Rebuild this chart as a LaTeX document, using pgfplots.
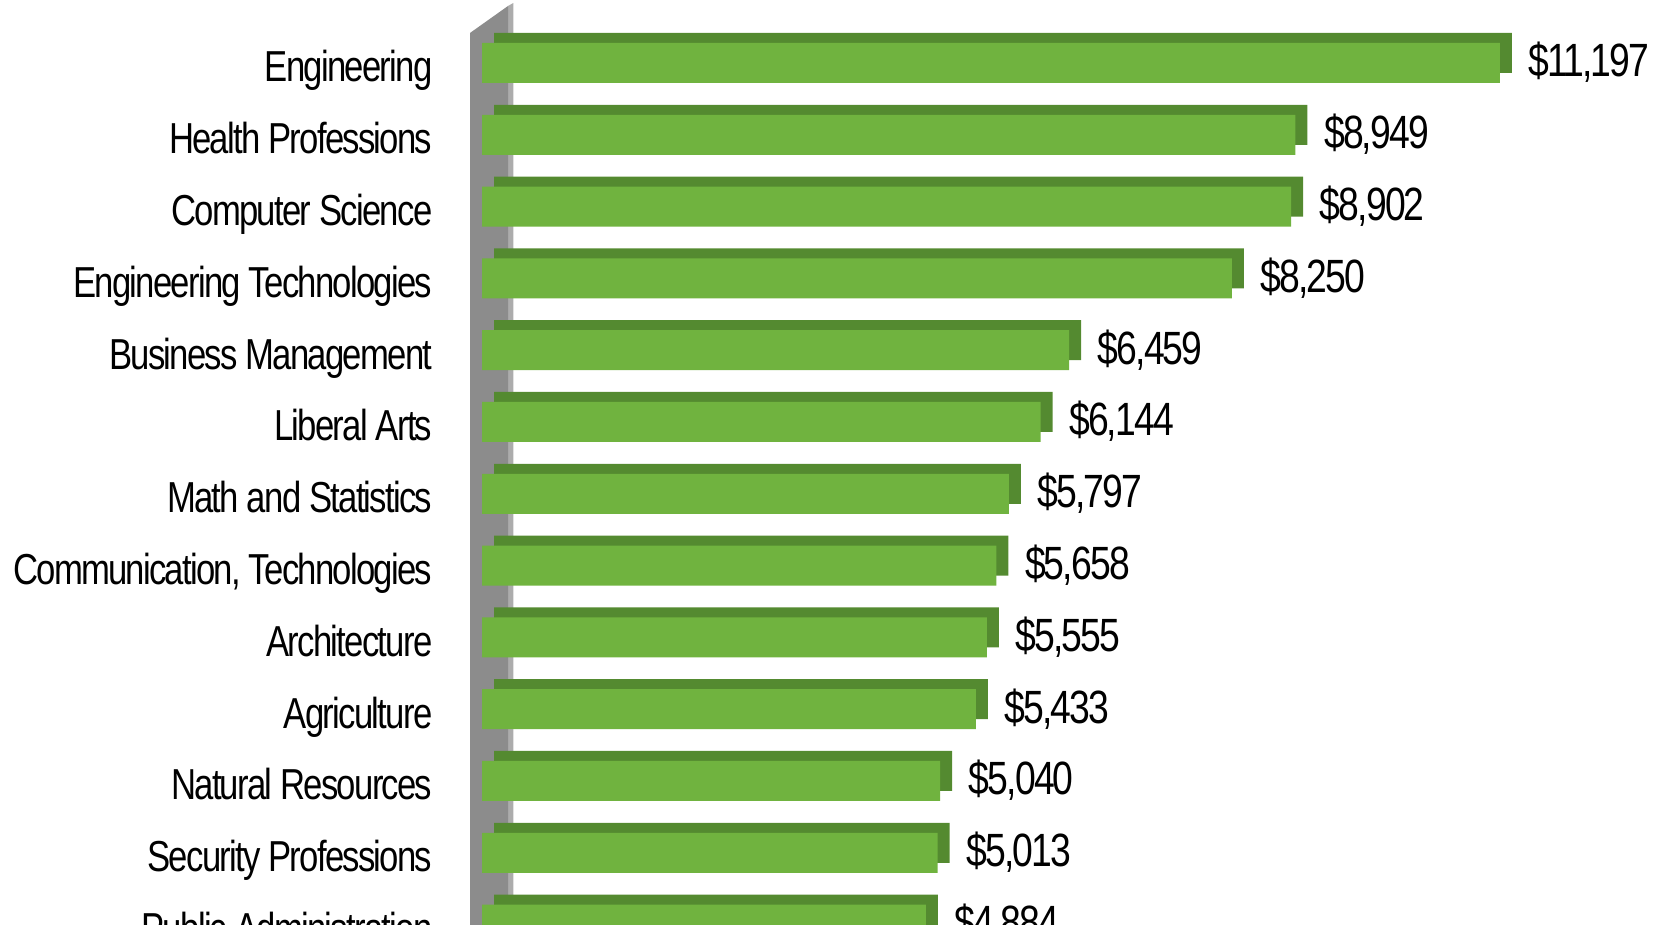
\documentclass[border=0pt]{standalone}
\usepackage{fontspec}
\setmainfont{Liberation Sans}[FakeStretch=0.8, LetterSpace=-4]
\usepackage{pgfplots}
\pgfplotsset{compat=1.18}
\definecolor{barfront}{RGB}{112,179,63}
\definecolor{bartop}{RGB}{84,138,48}
\definecolor{wallg}{RGB}{140,140,140}
\definecolor{walll}{RGB}{172,172,172}
\begin{document}
\begin{tikzpicture}
\useasboundingbox (0,0) rectangle (500.1pt,277.5pt);
\clip (0,0) rectangle (500.1pt,277.5pt);
% back wall
\fill[walll] (152.4pt,0) -- (152.4pt,275.7pt) -- (154pt,276.6pt) -- (154pt,0) -- cycle;
\fill[wallg] (141pt,0) -- (141pt,267.6pt) -- (152.4pt,275.7pt) -- (152.4pt,0) -- cycle;
\begin{axis}[
  at={(144.6pt,0pt)}, anchor=south west,
  scale only axis, width=355.5pt, height=277.5pt,
  xmin=0, xmax=13036, ymin=-0.877, ymax=12.006, y dir=reverse,
  axis line style={draw=none},
  major tick length=0pt,
  xtick=\empty,
  ytick={0,...,12},
  yticklabels={Engineering, Health Professions, Computer Science, Engineering Technologies, Business Management, Liberal Arts, Math and Statistics, {Communication, Technologies}, Architecture, Agriculture, Natural Resources, Security Professions, Public Administration},
  yticklabel style={anchor=base east, inner sep=0pt, xshift=-14.7pt, yshift=-5.7pt, font=\fontsize{13}{15}\selectfont},
  clip=false,
  xbar, bar width=12pt,
  /pgf/number format/.cd, 1000 sep={,}, assume math mode=true,
]
\addplot[xbar, bar shift=0pt, fill=bartop, draw=none, xshift=3.6pt, yshift=3pt]
  coordinates {(11197,0) (8949,1) (8902,2) (8250,3) (6459,4) (6144,5) (5797,6) (5658,7) (5555,8) (5433,9) (5040,10) (5013,11) (4884,12)};
\addplot[xbar, bar shift=0pt, fill=barfront, draw=none,
  nodes near coords={\$\pgfmathprintnumber{\pgfplotspointmeta}},
  nodes near coords style={anchor=base west, inner sep=0pt, xshift=8.4pt, yshift=-4.2pt, font=\fontsize{14}{16}\selectfont, text=black}]
  coordinates {(11197,0) (8949,1) (8902,2) (8250,3) (6459,4) (6144,5) (5797,6) (5658,7) (5555,8) (5433,9) (5040,10) (5013,11) (4884,12)};
\end{axis}
\end{tikzpicture}
\end{document}
